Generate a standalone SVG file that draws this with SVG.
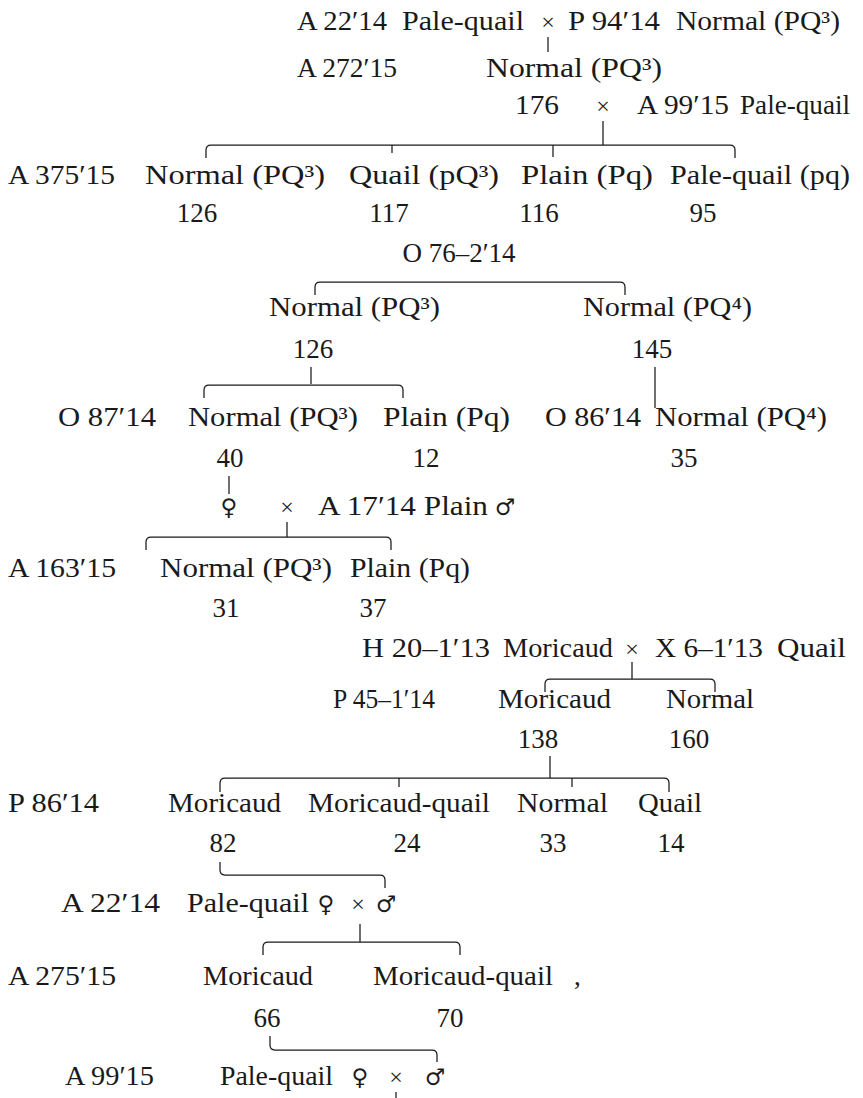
<svg xmlns="http://www.w3.org/2000/svg" width="863" height="1098" viewBox="0 0 863 1098">
<style>
text{font-family:"Liberation Serif","DejaVu Serif",serif;font-size:27px;fill:#1a1a1a}
.c{text-anchor:middle}
.s{font-family:"DejaVu Serif","Liberation Serif",serif;font-size:23px}
.x{font-size:24px}
#connectors path{fill:none;stroke:#1a1a1a;stroke-width:1.25}
</style>
<rect width="863" height="1098" fill="#fff"/>
<g id="connectors">
<path d="M548,37 V52"/>
<path d="M603,121 V145"/>
<path d="M206,158 V150 Q206,145 211,145 H730 Q735,145 735,150 V158"/>
<path d="M392,145 V153"/>
<path d="M553,145 V157"/>
<path d="M315,295 V287 Q315,282 320,282 H620 Q625,282 625,287 V295"/>
<path d="M311,367 V384"/>
<path d="M204,398 V390 Q204,385 209,385 H398 Q403,385 403,390 V398"/>
<path d="M655,367 V408"/>
<path d="M229,476 V494"/>
<path d="M287,522 V537"/>
<path d="M146,550 V542 Q146,537 151,537 H386 Q391,537 391,542 V550"/>
<path d="M632,662 V679"/>
<path d="M545,692 V684 Q545,679 550,679 H710 Q715,679 715,684 V692"/>
<path d="M550,756 V778"/>
<path d="M220,792 V783 Q220,778 225,778 H664 Q669,778 669,783 V792"/>
<path d="M399,778 V787"/>
<path d="M572,778 V787"/>
<path d="M220,862 V870 Q220,875 225,875 H380 Q385,875 385,880 V888"/>
<path d="M360,924 V942"/>
<path d="M263,955 V947 Q263,942 268,942 H455 Q460,942 460,947 V955"/>
<path d="M270,1036 V1045 Q270,1050 275,1050 H432 Q437,1050 437,1055 V1062"/>
<path d="M396,1092 V1098"/>
</g>
<g id="cross1">
<text x="297" y="30" textLength="90" lengthAdjust="spacingAndGlyphs">A 22′14</text>
<text x="402" y="30" textLength="122" lengthAdjust="spacingAndGlyphs">Pale-quail</text>
<text class="c x" x="548" y="30">×</text>
<text x="568" y="30" textLength="92" lengthAdjust="spacingAndGlyphs">P 94′14</text>
<text x="676" y="30" textLength="164" lengthAdjust="spacingAndGlyphs">Normal (PQ³)</text>
</g>
<g id="a272">
<text x="297" y="77" textLength="100" lengthAdjust="spacingAndGlyphs">A 272′15</text>
<text x="486" y="77" textLength="176" lengthAdjust="spacingAndGlyphs">Normal (PQ³)</text>
</g>
<g id="cross2">
<text x="515" y="114" textLength="44" lengthAdjust="spacingAndGlyphs">176</text>
<text class="c x" x="603" y="114">×</text>
<text x="637" y="114" textLength="92" lengthAdjust="spacingAndGlyphs">A 99′15</text>
<text x="740" y="114" textLength="110" lengthAdjust="spacingAndGlyphs">Pale-quail</text>
</g>
<g id="a375">
<text x="8" y="184" textLength="107" lengthAdjust="spacingAndGlyphs">A 375′15</text>
<text x="145" y="184" textLength="180" lengthAdjust="spacingAndGlyphs">Normal (PQ³)</text>
<text x="349" y="184" textLength="150" lengthAdjust="spacingAndGlyphs">Quail (pQ³)</text>
<text x="521" y="184" textLength="132" lengthAdjust="spacingAndGlyphs">Plain (Pq)</text>
<text x="670" y="184" textLength="180" lengthAdjust="spacingAndGlyphs">Pale-quail (pq)</text>
<text class="c" x="197" y="222">126</text>
<text class="c" x="389" y="222">117</text>
<text class="c" x="539" y="222">116</text>
<text class="c" x="703" y="222">95</text>
</g>
<g id="o76">
<text class="c" x="459" y="262">O 76–2′14</text>
<text x="269" y="316" textLength="171" lengthAdjust="spacingAndGlyphs">Normal (PQ³)</text>
<text x="583" y="316" textLength="169" lengthAdjust="spacingAndGlyphs">Normal (PQ⁴)</text>
<text class="c" x="313" y="358">126</text>
<text class="c" x="652" y="358">145</text>
</g>
<g id="o87">
<text x="58" y="426" textLength="98" lengthAdjust="spacingAndGlyphs">O 87′14</text>
<text x="188" y="426" textLength="170" lengthAdjust="spacingAndGlyphs">Normal (PQ³)</text>
<text x="383" y="426" textLength="127" lengthAdjust="spacingAndGlyphs">Plain (Pq)</text>
<text class="c" x="230" y="467">40</text>
<text class="c" x="426" y="467">12</text>
</g>
<g id="o86">
<text x="545" y="426" textLength="96" lengthAdjust="spacingAndGlyphs">O 86′14</text>
<text x="655" y="426" textLength="172" lengthAdjust="spacingAndGlyphs">Normal (PQ⁴)</text>
<text class="c" x="684" y="467">35</text>
</g>
<g id="cross3">
<text class="c s" x="229" y="515">♀</text>
<text class="c x" x="287" y="515">×</text>
<text x="318" y="515" textLength="170" lengthAdjust="spacingAndGlyphs">A 17′14 Plain</text>
<text class="c s" x="505" y="515">♂</text>
</g>
<g id="a163">
<text x="8" y="577" textLength="108" lengthAdjust="spacingAndGlyphs">A 163′15</text>
<text x="160" y="577" textLength="172" lengthAdjust="spacingAndGlyphs">Normal (PQ³)</text>
<text x="350" y="577" textLength="120" lengthAdjust="spacingAndGlyphs">Plain (Pq)</text>
<text class="c" x="226" y="617">31</text>
<text class="c" x="373" y="617">37</text>
</g>
<g id="cross4">
<text x="362" y="657" textLength="128" lengthAdjust="spacingAndGlyphs">H 20–1′13</text>
<text x="503" y="657" textLength="110" lengthAdjust="spacingAndGlyphs">Moricaud</text>
<text class="c x" x="632" y="657">×</text>
<text x="655" y="657" textLength="108" lengthAdjust="spacingAndGlyphs">X 6–1′13</text>
<text x="777" y="657" textLength="69" lengthAdjust="spacingAndGlyphs">Quail</text>
</g>
<g id="p45">
<text x="333" y="708" textLength="102" lengthAdjust="spacingAndGlyphs">P 45–1′14</text>
<text x="498" y="708" textLength="113" lengthAdjust="spacingAndGlyphs">Moricaud</text>
<text x="666" y="708" textLength="88" lengthAdjust="spacingAndGlyphs">Normal</text>
<text class="c" x="538" y="748">138</text>
<text class="c" x="689" y="748">160</text>
</g>
<g id="p86">
<text x="8" y="812" textLength="91" lengthAdjust="spacingAndGlyphs">P 86′14</text>
<text x="168" y="812" textLength="113" lengthAdjust="spacingAndGlyphs">Moricaud</text>
<text x="308" y="812" textLength="182" lengthAdjust="spacingAndGlyphs">Moricaud-quail</text>
<text x="517" y="812" textLength="91" lengthAdjust="spacingAndGlyphs">Normal</text>
<text x="638" y="812" textLength="64" lengthAdjust="spacingAndGlyphs">Quail</text>
<text class="c" x="223" y="852">82</text>
<text class="c" x="407" y="852">24</text>
<text class="c" x="553" y="852">33</text>
<text class="c" x="671" y="852">14</text>
</g>
<g id="cross5">
<text x="61" y="912" textLength="99" lengthAdjust="spacingAndGlyphs">A 22′14</text>
<text x="187" y="912" textLength="122" lengthAdjust="spacingAndGlyphs">Pale-quail</text>
<text class="c s" x="326" y="912">♀</text>
<text class="c x" x="358" y="912">×</text>
<text class="c s" x="386" y="912">♂</text>
</g>
<g id="a275">
<text x="8" y="985" textLength="108" lengthAdjust="spacingAndGlyphs">A 275′15</text>
<text x="203" y="985" textLength="110" lengthAdjust="spacingAndGlyphs">Moricaud</text>
<text x="373" y="985" textLength="180" lengthAdjust="spacingAndGlyphs">Moricaud-quail</text>
<text x="574" y="985">,</text>
<text class="c" x="267" y="1027">66</text>
<text class="c" x="450" y="1027">70</text>
</g>
<g id="cross6">
<text x="65" y="1085" textLength="89" lengthAdjust="spacingAndGlyphs">A 99′15</text>
<text x="220" y="1085" textLength="113" lengthAdjust="spacingAndGlyphs">Pale-quail</text>
<text class="c s" x="360" y="1085">♀</text>
<text class="c x" x="396" y="1085">×</text>
<text class="c s" x="435" y="1085">♂</text>
</g>
</svg>
